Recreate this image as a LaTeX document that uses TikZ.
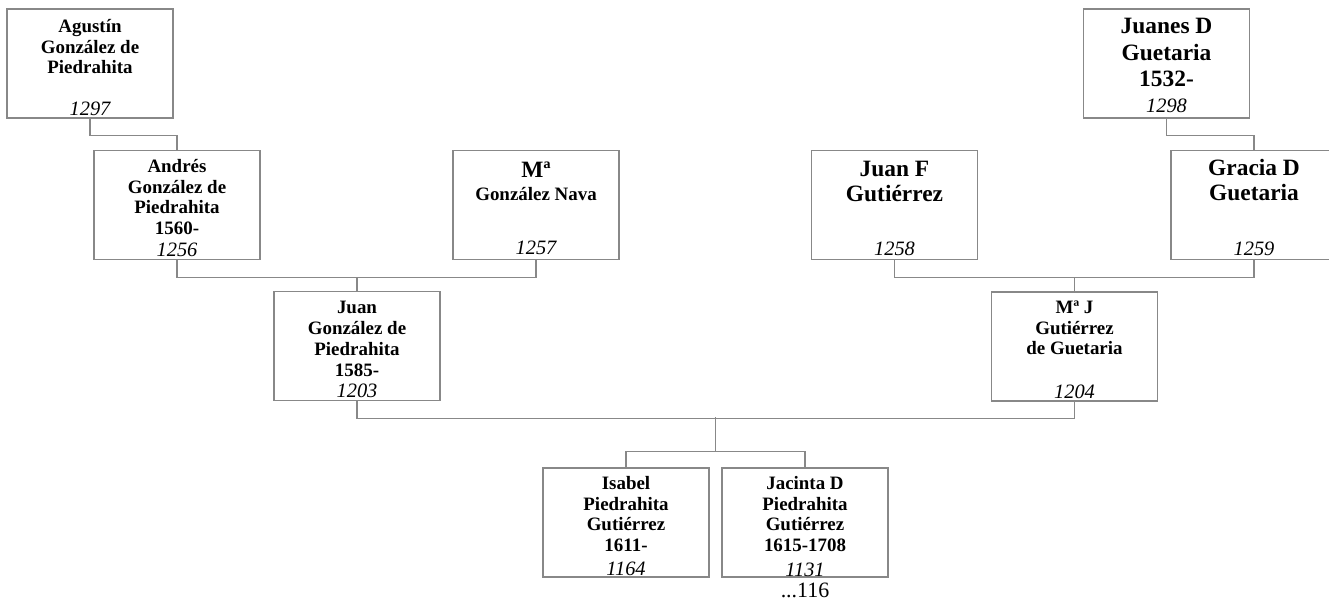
\documentclass[tikz,border=0pt]{standalone}
\usepackage{fontspec}
\setmainfont{Liberation Serif}
\usetikzlibrary{calc}
\definecolor{ln}{RGB}{136,136,136}
\tikzset{
  box/.style={draw=ln, line width=1.3bp, minimum width=166bp, minimum height=109bp, inner sep=0pt},
  conn/.style={draw=ln, line width=1.3bp},
  nsmall/.style={font=\bfseries\fontsize{19}{21}\selectfont, align=center, inner sep=0pt, anchor=north},
  nbig/.style={font=\bfseries\fontsize{23.5}{25}\selectfont, align=center, inner sep=0pt, anchor=north},
  num/.style={font=\itshape\fontsize{20.5}{24}\selectfont, inner sep=0pt, anchor=base},
}
\begin{document}
\begin{tikzpicture}[x=1bp,y=-1bp]
\useasboundingbox (0,0) rectangle (1329,600);
% boxes
\node[box] (agustin) at (90,63.5) {};
\node[box] (juanes) at (1166.5,63.5) {};
\node[box] (andres) at (177,205) {};
\node[box] (ma) at (536,205) {};
\node[box] (juanf) at (894.5,205) {};
\node[box] (gracia) at (1254,205) {};
\node[box] (juan) at (357,346) {};
\node[box] (maj) at (1074.5,346.5) {};
\node[box] (isabel) at (626,522.5) {};
\node[box] (jacinta) at (805,522.5) {};
% names
\node[nsmall] (agustinT) at (90,17.3) {\strut Agustín\\González de\\Piedrahita};
\node[nbig, font=\bfseries\fontsize{23.5}{27}\selectfont] (juanesT) at (1166.5,14.1) {\strut Juanes D\\Guetaria\\1532-};
\node[nsmall] (andresT) at (177,157.3) {\strut Andrés\\González de\\Piedrahita\\1560-};
\node[nbig] (maT) at (536,159.5) {\strut Mª};
\node[nsmall] (maT2) at (536,185.3) {\strut González Nava};
\node[nbig] (juanfT) at (894.5,158.5) {\strut Juan F\\Gutiérrez};
\node[nbig] (graciaT) at (1254,157.5) {\strut Gracia D\\Guetaria};
\node[nsmall] (juanT) at (357,298.5) {\strut Juan\\González de\\Piedrahita\\1585-};
\node[nsmall] (majT) at (1074.5,298.3) {\strut Mª J\\Gutiérrez\\de Guetaria};
\node[nsmall] (isabelT) at (626,474.3) {\strut Isabel\\Piedrahita\\Gutiérrez\\1611-};
\node[nsmall] (jacintaT) at (805,474.3) {\strut Jacinta D\\Piedrahita\\Gutiérrez\\1615-1708};
% numbers
\node[num] (agustinN) at (90,115.5) {1297};
\node[num] (juanesN) at (1166.5,113) {1298};
\node[num] (andresN) at (177,256.5) {1256};
\node[num] (maN) at (536,254) {1257};
\node[num] (juanfN) at (894.5,255) {1258};
\node[num] (graciaN) at (1254,255) {1259};
\node[num] (juanN) at (357,397.5) {1203};
\node[num] (majN) at (1074.5,398.5) {1204};
\node[num] (isabelN) at (626,575) {1164};
\node[num] (jacintaN) at (805,576) {1131};
\node[font=\fontsize{22}{24}\selectfont, inner sep=0pt, anchor=base] (more) at (805,597.5) {...116};
% connectors
\draw[conn] (agustin.south) -- ++(0,17) -| (andres.north);
\draw[conn] (juanes.south) -- ++(0,17) -| (gracia.north);
\draw[conn] (andres.south) -- ++(0,17) coordinate (a1) -| (ma.south);
\draw[conn] (juan.north) -- (juan.north |- a1);
\draw[conn] (juanf.south) -- ++(0,17) coordinate (b1) -| (gracia.south);
\draw[conn] (maj.north) -- (maj.north |- b1);
\draw[conn] (juan.south) -- ++(0,17) coordinate (c1) -| (maj.south);
\coordinate (mid) at (715.5,417);
\draw[conn] (isabel.north) -- ++(0,-16) coordinate (e1) -| (jacinta.north);
\draw[conn] (mid) -- (mid |- e1);
\end{tikzpicture}
\end{document}
